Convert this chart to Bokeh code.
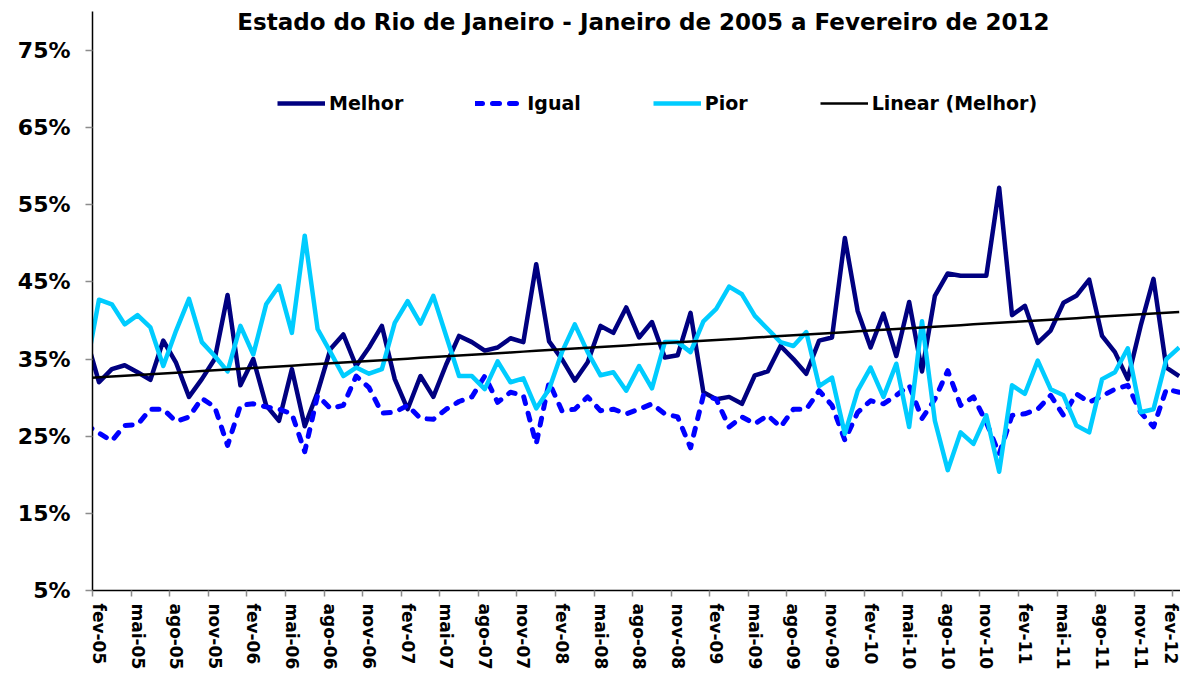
import numpy as np
from bokeh.plotting import figure
from bokeh.models import Range1d, FixedTicker, Legend, LegendItem, Label
from bokeh.embed import file_html
from bokeh.resources import INLINE

month_names = ["jan", "fev", "mar", "abr", "mai", "jun", "jul", "ago", "set", "out", "nov", "dez"]
categories = [f"{m}-{y:02d}" for y in range(5, 13) for m in month_names][:86]

melhor = [37.8, 32.0, 33.7, 34.2, 33.3, 32.3, 37.4, 34.5, 30.1, 32.4,
          35.0, 43.3, 31.6, 35.0, 29.0, 27.0, 33.7, 26.3, 30.7, 36.3,
          38.2, 34.1, 36.5, 39.3, 32.4, 28.5, 32.8, 30.1, 34.3, 38.0,
          37.2, 36.1, 36.5, 37.7, 37.2, 47.3, 37.3, 35.0, 32.2, 34.6,
          39.3, 38.4, 41.7, 37.8, 39.8, 35.2, 35.5, 41.0, 30.7, 29.8,
          30.1, 29.2, 32.9, 33.4, 36.7, 35.0, 33.1, 37.4, 37.8, 50.7,
          41.2, 36.5, 40.9, 35.4, 42.4, 33.4, 43.2, 46.1, 45.8, 45.8,
          45.8, 57.2, 40.7, 41.9, 37.1, 38.7, 42.3, 43.2, 45.3, 38.0,
          35.9, 32.4, 39.3, 45.4, 33.9, 32.8]

igual = [26.5, 25.4, 24.4, 26.4, 26.5, 28.5, 28.5, 26.9, 27.5, 29.9,
         28.8, 23.8, 29.0, 29.2, 28.8, 28.5, 27.9, 23.0, 30.3, 28.6,
         29.0, 32.8, 31.3, 28.0, 28.1, 29.0, 27.3, 27.2, 28.5, 29.5,
         30.1, 32.8, 29.4, 30.7, 30.3, 24.0, 32.0, 28.3, 28.5, 30.1,
         28.3, 28.5, 27.9, 28.5, 29.2, 27.9, 27.5, 23.5, 30.3, 29.8,
         26.2, 27.5, 26.6, 27.7, 26.2, 28.5, 28.5, 30.9, 29.0, 24.5,
         28.1, 29.6, 29.2, 30.3, 31.6, 27.3, 29.8, 33.5, 29.0, 30.1,
         26.8, 22.7, 27.7, 27.9, 28.5, 30.3, 27.7, 30.5, 29.4, 30.2,
         31.1, 31.6, 28.1, 26.2, 31.1, 30.7]

pior = [33.7, 42.7, 42.1, 39.5, 40.7, 39.1, 34.1, 38.7, 42.8, 37.2,
        35.4, 33.4, 39.3, 35.6, 42.1, 44.5, 38.4, 51.0, 38.9, 35.9,
        32.8, 33.9, 33.1, 33.7, 39.7, 42.5, 39.6, 43.2, 38.0, 32.8,
        32.8, 31.1, 34.7, 32.0, 32.5, 28.6, 31.1, 35.9, 39.5, 35.9,
        32.9, 33.3, 30.9, 34.1, 31.2, 37.2, 37.2, 35.9, 39.9, 41.5,
        44.4, 43.4, 40.6, 38.9, 37.2, 36.7, 38.5, 31.5, 32.6, 25.3,
        30.9, 33.9, 30.1, 34.4, 26.2, 39.9, 27.0, 20.6, 25.5, 24.0,
        27.7, 20.4, 31.6, 30.5, 34.8, 31.1, 30.3, 26.4, 25.5, 32.4,
        33.3, 36.4, 28.1, 28.5, 35.0, 36.5]

y_ticks = [5, 15, 25, 35, 45, 55, 65, 75]
y_tick_labels = [f"{v}%" for v in y_ticks]

title_text = "Estado do Rio de Janeiro - Janeiro de 2005 a Fevereiro de 2012"

x = np.arange(len(categories))
label_pos = list(range(1, len(categories), 3))
tick_labels = [categories[i] for i in label_pos]
tick_pos = [i - 0.5 for i in label_pos]

# linear trendline of "Melhor" (least squares, as Excel's linear trendline)
slope, intercept = np.polyfit(x, np.array(melhor), 1)
trend = intercept + slope * x

FONT = "DejaVu Sans"

p = figure(width=1180, height=672,
           x_range=Range1d(0.497, 85.1), y_range=Range1d(5, 80.06),
           output_backend="svg", toolbar_location=None,
           min_border_left=92, min_border_right=0,
           min_border_top=11, min_border_bottom=80)
p.xgrid.visible = False
p.ygrid.visible = False
p.outline_line_color = None
p.background_fill_color = "white"
p.border_fill_color = "white"

r_m = p.line(x, melhor, line_color="#000080", line_width=4.5, line_join="round")
r_i = p.line(x, igual, line_color="#0000FF", line_width=5, line_dash="7 10",
             line_cap="round", line_join="round")
r_p = p.line(x, pior, line_color="#00CCFF", line_width=4.5, line_join="round")
r_t = p.line(x, trend, line_color="black", line_width=2.5)

# x axis
xa = p.xaxis[0]
xa.ticker = FixedTicker(ticks=label_pos, minor_ticks=tick_pos)
xa.major_label_overrides = {pos: lab for pos, lab in zip(label_pos, tick_labels)}
xa.major_label_orientation = "vertical"
xa.major_tick_out = 0
xa.major_tick_in = 0
xa.major_tick_line_color = None
xa.minor_tick_out = 6
xa.minor_tick_in = 0
xa.minor_tick_line_color = "#8c8c8c"
xa.minor_tick_line_width = 1.5
xa.axis_line_color = "black"
xa.axis_line_width = 1.5
xa.major_label_standoff = 7
xa.major_label_text_font = FONT
xa.major_label_text_font_style = "bold"
xa.major_label_text_font_size = "17px"
xa.major_label_text_color = "black"

# y axis
ya = p.yaxis[0]
ya.ticker = FixedTicker(ticks=y_ticks, minor_ticks=[])
ya.major_label_overrides = {v: lab for v, lab in zip(y_ticks, y_tick_labels)}
ya.major_tick_out = 7
ya.major_tick_in = 0
ya.major_tick_line_color = "#8c8c8c"
ya.major_tick_line_width = 1.5
ya.minor_tick_line_color = None
ya.axis_line_color = "black"
ya.axis_line_width = 1.5
ya.major_label_standoff = 15
ya.major_label_text_font = FONT
ya.major_label_text_font_style = "bold"
ya.major_label_text_font_size = "22px"
ya.major_label_text_color = "black"

legend = Legend(items=[LegendItem(label="Melhor", renderers=[r_m]),
                       LegendItem(label="Igual", renderers=[r_i]),
                       LegendItem(label="Pior", renderers=[r_p]),
                       LegendItem(label="Linear (Melhor)", renderers=[r_t])],
                orientation="horizontal", location=(185, 476),
                padding=0, margin=0, spacing=72,
                glyph_width=48, glyph_height=20, label_standoff=4,
                border_line_color=None, background_fill_alpha=0,
                label_text_font=FONT, label_text_font_style="bold",
                label_text_font_size="19px", label_text_color="black")
p.add_layout(legend, "center")

title = Label(x=43.34, y=78.64, text=title_text, text_align="center",
              text_baseline="alphabetic", text_font=FONT, text_font_style="bold",
              text_font_size="23px", text_color="black")
p.add_layout(title)

open("out.html", "w").write(file_html(p, INLINE))
